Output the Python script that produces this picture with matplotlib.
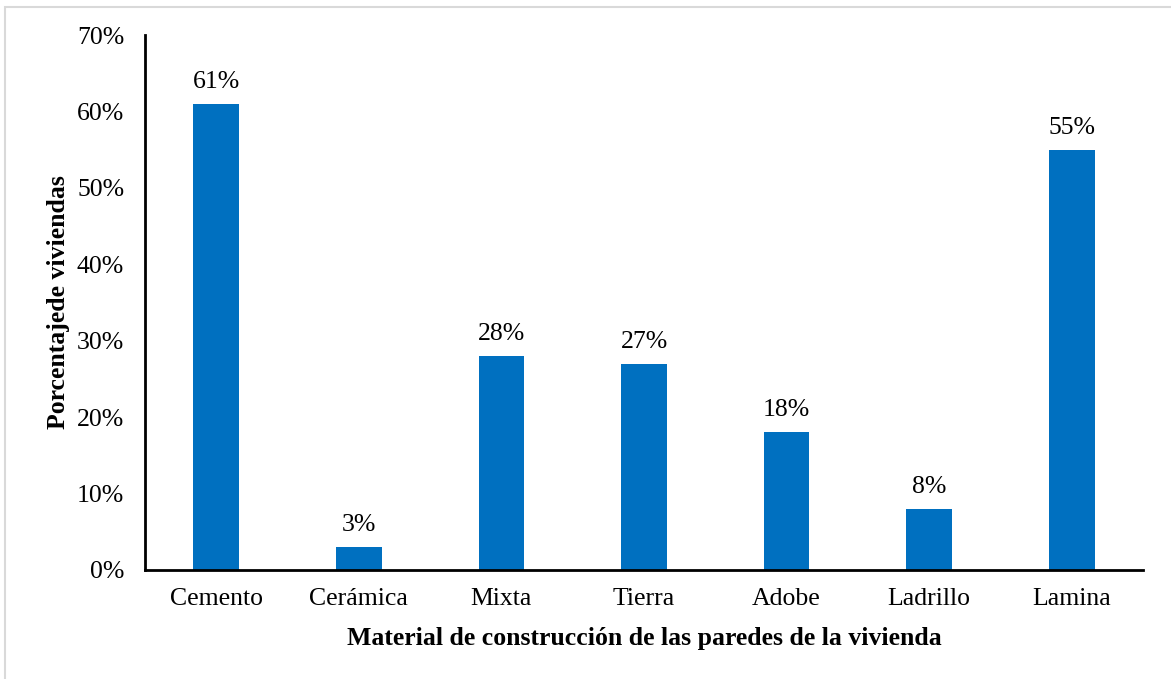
import matplotlib.pyplot as plt
from matplotlib.patches import Rectangle
from matplotlib.ticker import PercentFormatter

materiales = ['Cemento', 'Cerámica', 'Mixta', 'Tierra', 'Adobe', 'Ladrillo', 'Lamina']
porcentajes = [61, 3, 28, 27, 18, 8, 55]

plt.rcParams['font.family'] = ['Liberation Serif', 'DejaVu Serif']

fig = plt.figure(figsize=(11.71, 6.79), dpi=100)
ax = fig.add_axes([145 / 1171, 1 - 570 / 679, 998 / 1171, 535 / 679])

x = range(len(materiales))
bars = ax.bar(x, porcentajes, width=0.32, color='#0070C0')
for b, v in zip(bars, porcentajes):
    ax.annotate(f'{v}%', (b.get_x() + b.get_width() / 2, v), xytext=(0, 8),
                textcoords='offset points', ha='center', va='bottom', fontsize=18.5)

ax.set_xlim(-0.5, len(materiales) - 0.5)
ax.set_ylim(0, 70)
ax.set_yticks(range(0, 71, 10))
ax.yaxis.set_major_formatter(PercentFormatter(decimals=0))
ax.set_xticks(list(x))
ax.set_xticklabels(materiales)
ax.tick_params(length=0, labelsize=18.5)
ax.tick_params(axis='x', pad=13)
ax.tick_params(axis='y', pad=15)

for side in ['top', 'right']:
    ax.spines[side].set_visible(False)
for side in ['left', 'bottom']:
    ax.spines[side].set_linewidth(2)

ax.set_xlabel('Material de construcción de las paredes de la vivienda',
              fontsize=18.5, fontweight='bold', labelpad=12)
ax.set_ylabel('Porcentajede viviendas', fontsize=18.5, fontweight='bold', labelpad=5)

# thin gray frame around the chart area
fig.patches.append(Rectangle((5 / 1171, -0.1), 1.2, 1 - 7 / 679 + 0.1,
                             transform=fig.transFigure, fill=False,
                             edgecolor='#d9d9d9', linewidth=1.5))

fig.savefig('out.png', dpi=100)
